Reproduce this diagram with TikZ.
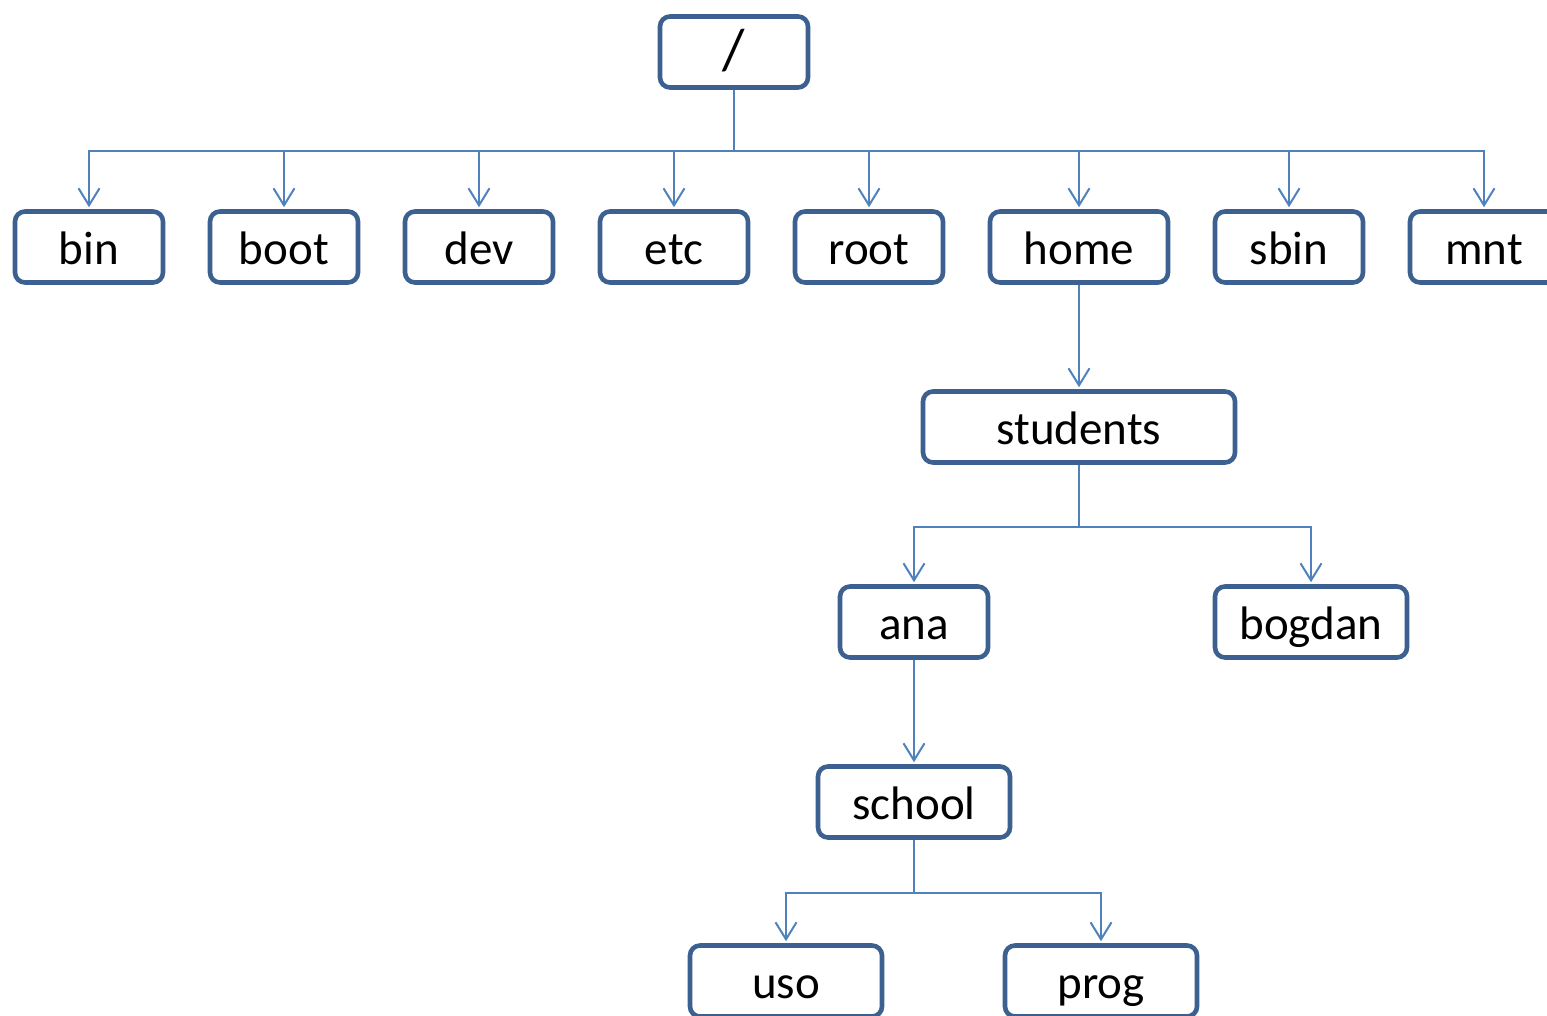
\documentclass[tikz,border=0pt]{standalone}
\usepackage{fontspec}
\setmainfont{Carlito}
\usetikzlibrary{arrows.meta}
\definecolor{boxblue}{RGB}{60,96,143}
\definecolor{lineblue}{RGB}{79,129,189}
\begin{document}
\begin{tikzpicture}[x=0.5pt,y=-0.5pt,
  dirbox/.style={draw=boxblue,line width=2.3pt,rounded corners=5pt,fill=white,
    minimum height=35.5pt,inner sep=0pt,text height=20pt,text depth=3pt,
    font=\fontsize{23.5pt}{28pt}\selectfont},
  conn/.style={draw=lineblue,line width=1pt,-{Straight Barb[length=8.5pt,width=10.5pt,line width=1pt]},shorten >=1pt}]
\useasboundingbox (0,0) rectangle (1547,1016);
\clip (0,0) rectangle (1547,1016);
\node[dirbox,minimum width=74pt,text height=21pt,text depth=3pt] (top) at (734,52) {\fontsize{29pt}{32pt}\selectfont /};
\node[dirbox,minimum width=74pt] (bin) at (89,247) {bin};
\node[dirbox,minimum width=74pt] (boot) at (284,247) {boot};
\node[dirbox,minimum width=74pt] (dev) at (479,247) {dev};
\node[dirbox,minimum width=74pt] (etc) at (674,247) {etc};
\node[dirbox,minimum width=74pt] (root) at (869,247) {root};
\node[dirbox,minimum width=89pt] (home) at (1079,247) {home};
\node[dirbox,minimum width=74pt] (sbin) at (1289,247) {sbin};
\node[dirbox,minimum width=74pt] (mnt) at (1484,247) {mnt};
\node[dirbox,minimum width=156pt] (students) at (1079,427) {students};
\node[dirbox,minimum width=74pt] (ana) at (914,622) {ana};
\node[dirbox,minimum width=96pt] (bogdan) at (1311,622) {bogdan};
\node[dirbox,minimum width=96pt] (school) at (914,802) {school};
\node[dirbox,minimum width=96pt] (uso) at (786,981) {uso};
\node[dirbox,minimum width=96pt] (prog) at (1101,981) {prog};
\foreach \c in {bin,boot,dev,etc,root,home,sbin,mnt}
  \draw[conn] (top.south) -- ++(0,61) -| (\c.north);
\draw[conn] (home.south) -- (students.north);
\foreach \c in {ana,bogdan}
  \draw[conn] (students.south) -- ++(0,62) -| (\c.north);
\draw[conn] (ana.south) -- (school.north);
\foreach \c in {uso,prog}
  \draw[conn] (school.south) -- ++(0,53) -| (\c.north);
\end{tikzpicture}
\end{document}
